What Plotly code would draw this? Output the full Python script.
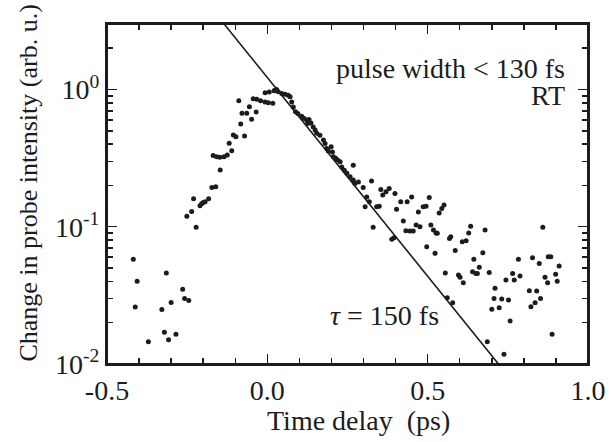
import numpy as np
import plotly.graph_objects as go

# ---- data (time delay in ps, signal in arb. u.) ----
pre_t = [-0.418, -0.406, -0.412, -0.371, -0.329, -0.321, -0.315, -0.308, -0.300,
         -0.285, -0.264, -0.258, -0.245]
pre_y = [0.058, 0.040, 0.026, 0.0145, 0.025, 0.017, 0.046, 0.015, 0.028,
         0.0165, 0.035, 0.030, 0.029]

rise_t = [-0.251, -0.236, -0.230, -0.222, -0.210, -0.205, -0.200, -0.194, -0.183,
          -0.173, -0.161, -0.147, -0.169, -0.158, -0.148, -0.135, -0.125, -0.111,
          -0.119, -0.106, -0.098, -0.071, -0.083, -0.089, -0.079, -0.064, -0.056,
          -0.049, -0.035, -0.044, -0.033, -0.021, -0.007, 0.003, 0.017, -0.007,
          0.006, 0.021, 0.029, 0.024, 0.034, 0.045, 0.055, 0.065, 0.071]
rise_y = [0.119, 0.129, 0.160, 0.099, 0.142, 0.147, 0.150, 0.152, 0.160,
          0.193, 0.196, 0.259, 0.330, 0.324, 0.321, 0.324, 0.333, 0.358,
          0.406, 0.467, 0.453, 0.458, 0.561, 0.828, 0.671, 0.671, 0.750,
          0.607, 0.685, 0.857, 0.849, 0.828, 0.811, 0.801, 0.794, 0.948,
          0.959, 0.980, 1.000, 0.989, 0.962, 0.936, 0.925, 0.908, 0.884]

decay_t = [0.076, 0.081, 0.088, 0.095, 0.107, 0.115, 0.123, 0.130, 0.126, 0.136,
           0.143, 0.149, 0.154, 0.164, 0.175, 0.180, 0.185, 0.190, 0.199, 0.203,
           0.206, 0.213, 0.219, 0.227, 0.232, 0.240, 0.248, 0.258, 0.268, 0.273,
           0.284, 0.268,
           0.299, 0.310, 0.318, 0.305, 0.325, 0.330, 0.341, 0.349, 0.354, 0.360,
           0.370, 0.380, 0.398, 0.388, 0.395, 0.403, 0.416, 0.424, 0.436, 0.450,
           0.432, 0.445, 0.455, 0.464, 0.476, 0.471, 0.486, 0.495, 0.505, 0.497,
           0.510, 0.518, 0.526, 0.530, 0.523, 0.536, 0.544, 0.551, 0.555, 0.568,
           0.572, 0.586, 0.596, 0.601, 0.611, 0.608, 0.620, 0.628, 0.634, 0.644,
           0.640, 0.650, 0.655, 0.661, 0.672, 0.679, 0.692, 0.710, 0.744, 0.765,
           0.770, 0.783, 0.788, 0.561, 0.578, 0.707, 0.700, 0.723, 0.731, 0.752,
           0.757, 0.686, 0.738, 0.817, 0.840, 0.822, 0.835, 0.852, 0.827, 0.848,
           0.859, 0.876, 0.884, 0.866, 0.874, 0.899, 0.904, 0.910, 0.888]
decay_y = [0.812, 0.747, 0.687, 0.669, 0.639, 0.615, 0.598, 0.605, 0.565, 0.571,
           0.534, 0.506, 0.479, 0.465, 0.428, 0.404, 0.372, 0.357, 0.382, 0.351,
           0.323, 0.315, 0.306, 0.297, 0.273, 0.258, 0.245, 0.231, 0.219, 0.207,
           0.212, 0.281,
           0.193, 0.165, 0.152, 0.140, 0.215, 0.099, 0.140, 0.141, 0.187, 0.170,
           0.180, 0.190, 0.175, 0.081, 0.083, 0.134, 0.152, 0.110, 0.152, 0.165,
           0.0935, 0.093, 0.093, 0.103, 0.100, 0.128, 0.140, 0.141, 0.163, 0.0715,
           0.103, 0.0946, 0.090, 0.0895, 0.064, 0.126, 0.136, 0.144, 0.046, 0.082,
           0.0845, 0.067, 0.0445, 0.0428, 0.039, 0.0777, 0.079, 0.090, 0.101, 0.058,
           0.047, 0.0457, 0.0457, 0.0506, 0.0646, 0.0946, 0.0465, 0.0356, 0.041, 0.0457,
           0.041, 0.058, 0.0437, 0.0304, 0.0279, 0.030, 0.0251, 0.0257, 0.0297, 0.0292,
           0.0206, 0.0145, 0.0118, 0.0342, 0.034, 0.0261, 0.0279, 0.030, 0.0594, 0.054,
           0.099, 0.0604, 0.0604, 0.0428, 0.039, 0.045, 0.040, 0.0517, 0.0165]

# single-exponential guide line, tau = 150 fs
TAU = 0.15      # ps
T0 = 0.03       # ps, where the guide equals 1
fit_t = np.array([-0.2, 0.8])
fit_y = np.exp(-(fit_t - T0) / TAU)

X_RANGE = [-0.5, 1.0]
Y_RANGE_LOG = [-2, float(np.log10(3.0))]
x_major = [-0.5, 0.0, 0.5, 1.0]
x_major_text = ["-0.5", "0.0", "0.5", "1.0"]
x_minor = [-0.4, -0.3, -0.2, -0.1, 0.1, 0.2, 0.3, 0.4, 0.6, 0.7, 0.8, 0.9]
y_major = [0.01, 0.1, 1.0]
y_major_text = ["10<sup>-2</sup>", "10<sup>-1</sup>", "10<sup>0</sup>"]
y_minor = [k * 10.0 ** e for e in (-2, -1, 0) for k in range(2, 10) if k * 10.0 ** e <= 3.0]

INK = "#1c1c1c"
FONT = "Liberation Serif"

t_all = pre_t + rise_t + decay_t
y_all = pre_y + rise_y + decay_y

fig = go.Figure()
fig.add_trace(go.Scatter(x=t_all, y=y_all, mode="markers",
                         marker=dict(size=5, color=INK), showlegend=False,
                         hoverinfo="skip"))
fig.add_trace(go.Scatter(x=fit_t, y=fit_y, mode="lines",
                         line=dict(color=INK, width=1.6), showlegend=False,
                         hoverinfo="skip"))

common = dict(showline=True, linewidth=2, linecolor=INK, mirror="allticks",
              ticks="inside", ticklen=10, tickwidth=1.5, tickcolor=INK,
              showgrid=False, zeroline=False, automargin=False,
              tickfont=dict(family=FONT, size=28, color=INK))
minor_common = dict(tickmode="array", ticks="inside", ticklen=6, tickwidth=1.5,
                    tickcolor=INK, showgrid=False)

fig.update_layout(
    xaxis=dict(range=X_RANGE, tickmode="array", tickvals=x_major, ticktext=x_major_text,
               minor=dict(tickvals=x_minor, **minor_common), **common),
    yaxis=dict(type="log", range=Y_RANGE_LOG, tickmode="array", tickvals=y_major,
               ticktext=y_major_text, minor=dict(tickvals=y_minor, **minor_common),
               **common),
)

# frame of the plotting area
fig.add_shape(type="rect", xref="x domain", yref="y domain", x0=0, x1=1, y0=0, y1=1,
              line=dict(color=INK, width=2), fillcolor="rgba(0,0,0,0)", layer="above")

ann_font = dict(family=FONT, size=28, color=INK)
fig.add_annotation(x=0.523, y=-0.165, xref="paper", yref="paper", text="Time delay  (ps)",
                   showarrow=False, xanchor="center", yanchor="middle", font=ann_font)
fig.add_annotation(x=-0.164, y=0.531, xref="paper", yref="paper",
                   text="Change in probe intensity (arb. u.)", textangle=-90,
                   showarrow=False, xanchor="center", yanchor="middle",
                   font=dict(family=FONT, size=26, color=INK))
fig.add_annotation(x=0.957, y=0.87, xref="paper", yref="paper", text="pulse width &lt; 130 fs",
                   showarrow=False, xanchor="right", yanchor="middle", font=ann_font)
fig.add_annotation(x=0.957, y=0.79, xref="paper", yref="paper", text="RT",
                   showarrow=False, xanchor="right", yanchor="middle", font=ann_font)
fig.add_annotation(x=0.695, y=0.143, xref="paper", yref="paper", text="<i>τ</i> = 150 fs",
                   showarrow=False, xanchor="right", yanchor="middle", font=ann_font)

fig.update_layout(width=613, height=442, autosize=False,
                  margin=dict(l=107, r=25, t=24, b=78),
                  plot_bgcolor="white", paper_bgcolor="white",
                  font=dict(family=FONT, color=INK))

fig.write_html("out.html", config={"displayModeBar": False, "staticPlot": True},
               post_script="document.body.style.margin='0';document.body.style.overflow='hidden';")
